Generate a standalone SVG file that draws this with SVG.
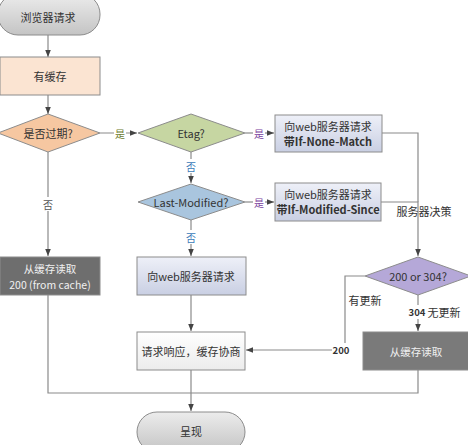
<svg xmlns="http://www.w3.org/2000/svg" width="468" height="445" viewBox="0 0 468 445">
<defs>
<linearGradient id="gGray" x1="0" y1="0" x2="0" y2="1"><stop offset="0" stop-color="#ececec"/><stop offset="1" stop-color="#c4c4c4"/></linearGradient>
<linearGradient id="gBlue" x1="0" y1="0" x2="0" y2="1"><stop offset="0" stop-color="#eef0f8"/><stop offset="1" stop-color="#c9cfe3"/></linearGradient>
<linearGradient id="gWhite" x1="0" y1="0" x2="0" y2="1"><stop offset="0" stop-color="#ffffff"/><stop offset="1" stop-color="#ececec"/></linearGradient>
<marker id="arr" viewBox="0 0 10 10" refX="10" refY="5" markerWidth="6" markerHeight="6" orient="auto"><path d="M0,1 L10,5 L0,9 z" fill="#444"/></marker>
</defs>
<style>
text{font-family:"Noto Sans CJK SC","Noto Sans",sans-serif;text-anchor:middle;dominant-baseline:central}
.lbl{font-size:11px;fill:#333}
.ln{fill:none;stroke:#8a8a8a;stroke-width:1.2}
.la{fill:none;stroke:#8a8a8a;stroke-width:1.2;marker-end:url(#arr)}
.box{stroke:#8c8c8c;stroke-width:1}
.tag{font-size:10px}
</style>
<rect width="468" height="445" fill="#ffffff"/>
<g id="connectors">
<path class="la" d="M48,35 V57"/>
<path class="la" d="M48,95 V114"/>
<path class="la" d="M100,133 H137"/>
<path class="la" d="M245,133 H274"/>
<path class="la" d="M191,152 V183"/>
<path class="la" d="M245,202 H274"/>
<path class="la" d="M191,220 V256"/>
<path class="la" d="M191,295 V331"/>
<path class="ln" d="M382,133 H418 V202"/>
<path class="la" d="M381,202 H418 V256"/>
<path class="la" d="M48,152 V256"/>
<path class="la" d="M418,295 V331"/>
<path class="la" d="M365,276 H345 V350 H246"/>
<path class="ln" d="M48,295 V393 H418 V370"/>
<path class="la" d="M191,370 V411"/>
</g>
<g id="labels">
<rect x="114" y="126" width="12" height="14" fill="#fff"/>
<text class="tag" x="120" y="133" fill="#6b7a2e">是</text>
<rect x="253" y="126" width="12" height="14" fill="#fff"/>
<text class="tag" x="259" y="133" fill="#7a3fa0">是</text>
<rect x="185" y="159" width="12" height="14" fill="#fff"/>
<text class="tag" x="191" y="166" fill="#3a7ab8">否</text>
<rect x="253" y="195" width="12" height="14" fill="#fff"/>
<text class="tag" x="259" y="202" fill="#7a3fa0">是</text>
<rect x="185" y="230" width="12" height="14" fill="#fff"/>
<text class="tag" x="191" y="237" fill="#3a7ab8">否</text>
<rect x="42" y="197" width="12" height="14" fill="#fff"/>
<text class="tag" x="48" y="204" fill="#555">否</text>
<text class="lbl" x="424" y="211" font-size="10.5">服务器决策</text>
<text class="lbl" x="365" y="300" font-size="10.5">有更新</text>
<rect x="409" y="305" width="17" height="14" fill="#fff"/>
<text x="417" y="312" font-size="9.5" fill="#333" font-weight="bold">304</text>
<text class="lbl" x="444" y="312" font-size="10.5">无更新</text>
<rect x="332" y="343" width="18" height="14" fill="#fff"/>
<text x="341" y="350" font-size="9.5" fill="#333" font-weight="bold">200</text>
</g>
<g id="n-start">
<rect class="box" x="-2" y="-6" width="102" height="41" rx="20" fill="url(#gGray)"/>
<text class="lbl" x="48" y="17">浏览器请求</text>
</g>
<g id="n-hascache">
<rect class="box" x="0" y="57" width="100" height="38" fill="#fbe4d2"/>
<text class="lbl" x="50" y="76" font-size="12">有缓存</text>
</g>
<g id="n-expired">
<polygon class="box" points="-2,133 48,114 100,133 48,152" fill="#f6c7a1"/>
<text class="lbl" x="48" y="133" font-size="12.5">是否过期?</text>
</g>
<g id="n-etag">
<polygon class="box" points="138,133 191,114 245,133 191,152" fill="#c6d6a2"/>
<text class="lbl" x="191" y="133" font-size="12.5">Etag?</text>
</g>
<g id="n-inm">
<rect class="box" x="275" y="115" width="107" height="37" fill="url(#gBlue)"/>
<text class="lbl" x="328" y="126" font-size="10.5">向web服务器请求</text>
<text class="lbl" x="328" y="141" font-size="10.5" font-weight="bold">带If-None-Match</text>
</g>
<g id="n-lastmod">
<polygon class="box" points="138,202 191,184 245,202 191,220" fill="#a9c5de"/>
<text class="lbl" x="191" y="202" font-size="11">Last-Modified?</text>
</g>
<g id="n-ims">
<rect class="box" x="275" y="183" width="106" height="38" fill="url(#gBlue)"/>
<text class="lbl" x="328" y="194" font-size="10.5">向web服务器请求</text>
<text class="lbl" x="328" y="209" font-size="8.8" font-weight="bold">带If-Modified-Since</text>
</g>
<g id="n-fromcache">
<rect class="box" x="0" y="257" width="100" height="38" fill="#6e6e6e"/>
<text x="50" y="268" font-size="10.5" fill="#f0f0f0">从缓存读取</text>
<text x="50" y="284" font-size="10.5" fill="#f0f0f0">200 (from cache)</text>
</g>
<g id="n-request">
<rect class="box" x="137" y="257" width="109" height="38" fill="url(#gBlue)"/>
<text class="lbl" x="191" y="276" font-size="10.5">向web服务器请求</text>
</g>
<g id="n-decision">
<polygon class="box" points="365,276 418,257 471,276 418,295" fill="#b5a8d8"/>
<text class="lbl" x="418" y="276" font-size="12">200 or 304?</text>
</g>
<g id="n-negotiate">
<rect class="box" x="137" y="332" width="108" height="38" fill="url(#gWhite)"/>
<text class="lbl" x="191" y="351" font-size="10.5">请求响应，缓存协商</text>
</g>
<g id="n-readcache">
<rect class="box" x="363" y="332" width="107" height="38" fill="#7a7a7a"/>
<text x="416" y="351" font-size="10.5" fill="#f0f0f0">从缓存读取</text>
</g>
<g id="n-render">
<rect class="box" x="137" y="412" width="108" height="40" rx="20" fill="url(#gGray)"/>
<text class="lbl" x="191" y="431">呈现</text>
</g>
</svg>
